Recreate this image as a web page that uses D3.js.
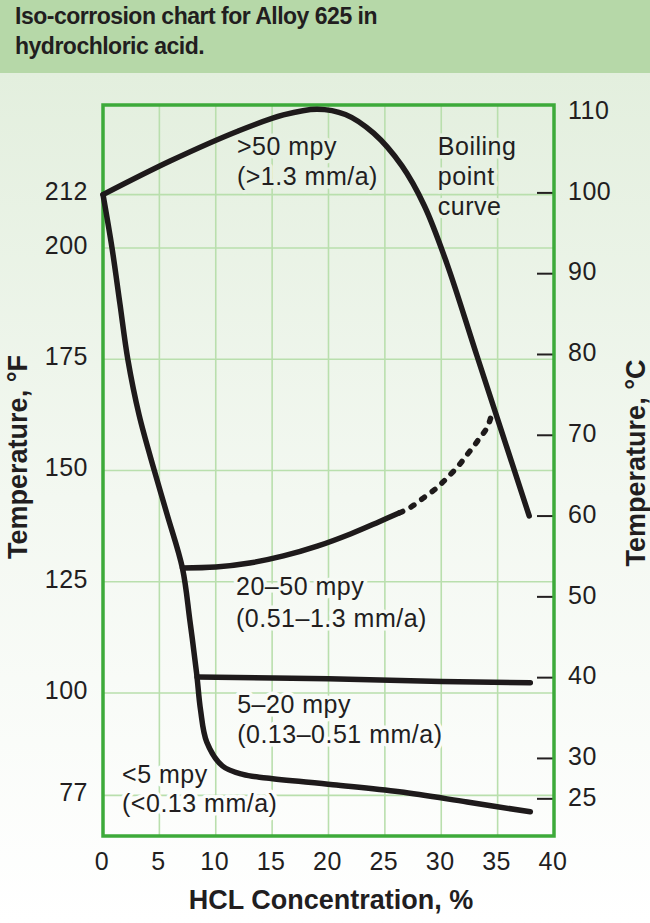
<!DOCTYPE html>
<html>
<head>
<meta charset="utf-8">
<script src="https://cdn.jsdelivr.net/npm/d3@7"></script>
<style>
  html, body { margin: 0; padding: 0; background: #fff; }
  svg { display: block; }
  text { font-family: "Liberation Sans", Arial, Helvetica, sans-serif; fill: #221e1f; }
</style>
</head>
<body>
<div id="chart"></div>
<script>
// ---------- data ----------
const titleLines = ["Iso-corrosion chart for Alloy 625 in", "hydrochloric acid."];
const xTicks = [0, 5, 10, 15, 20, 25, 30, 35, 40];
const xGrid = [5, 10, 15, 20, 25, 30, 35];
const fTicks = [77, 100, 125, 150, 175, 200, 212];
const cTicks = [25, 30, 40, 50, 60, 70, 80, 90, 100];
const cLabels = [25, 30, 40, 50, 60, 70, 80, 90, 100, 110];

// curves: [HCl %, temperature °F]
const boilingCurve = [[0,212],[6,219.6],[12,226.3],[16,229.9],[19,231.2],[21.5,230],[24,225.8],[26.5,218.5],[28.5,209.5],[30.5,196.5],[33.2,175.5],[37.8,139.8]];
const lowBoundary = [[0,212],[0.8,200],[1.5,187.5],[2.2,175],[3.2,162.5],[4.55,150],[5.7,140],[7.05,128],[7.7,116.4],[8.3,104.5],[8.65,96.2],[9.2,89],[10.6,83.6],[12.4,81.7],[14.5,80.9],[20.4,79.4],[26.3,77.8],[32.3,75.5],[37.9,73.3]];
const mid50Solid = [[7.05,128.1],[10,128.3],[13,129.2],[16,130.8],[19,133],[22,135.8],[24.5,138.5],[26.3,140.5]];
const mid50Dotted = [[26.3,140.5],[27.2,141.6],[28.4,143.8],[29.6,146.1],[30.5,148.3],[31.5,151.0],[32.4,153.9],[33.3,156.9],[34.1,159.8],[34.5,162.9]];
const mid20 = [[8.35,103.6],[20,103.2],[30,102.6],[37.9,102.3]];

const annotations = [
  {text: ">50 mpy", x: 11.88, f: 220.9},
  {text: "(>1.3 mm/a)", x: 11.88, f: 214.2},
  {text: "Boiling", x: 29.7, f: 220.9},
  {text: "point", x: 29.7, f: 214.2},
  {text: "curve", x: 29.7, f: 207.4},
  {text: "20–50 mpy", x: 11.8, f: 122.0},
  {text: "(0.51–1.3 mm/a)", x: 11.8, f: 114.8},
  {text: "5–20 mpy", x: 11.9, f: 95.5},
  {text: "(0.13–0.51 mm/a)", x: 11.9, f: 88.8},
  {text: "<5 mpy", x: 1.69, f: 79.8},
  {text: "(<0.13 mm/a)", x: 1.69, f: 73.3}
];

// ---------- layout ----------
const W = 650, H = 923;
const plot = {left: 103, right: 554, top: 105, bottom: 836};
const headerH = 73;

const x = d3.scaleLinear().domain([0, 40]).range([plot.left, plot.right]);
const yF = d3.scaleLinear().domain([67.87, 232.13]).range([plot.bottom, plot.top]);
const yC = d3.scaleLinear().domain([20.40, 110.88]).range([plot.bottom, plot.top]);

const svg = d3.select("#chart").append("svg").attr("width", W).attr("height", H);

const bgTop = "#e3efde", bgMid = "#f3f8f1", bgBot = "#ffffff";
const defs = svg.append("defs");
const grad = defs.append("linearGradient").attr("id", "bg").attr("x1", 0).attr("y1", 0).attr("x2", 0).attr("y2", 1);
grad.append("stop").attr("offset", "0%").attr("stop-color", bgTop);
grad.append("stop").attr("offset", "50%").attr("stop-color", bgMid);
grad.append("stop").attr("offset", "100%").attr("stop-color", bgBot);
const bgAt = y => {
  const t = (y - headerH) / (H - headerH);
  return t < 0.5 ? d3.interpolateRgb(bgTop, bgMid)(t / 0.5) : d3.interpolateRgb(bgMid, bgBot)((t - 0.5) / 0.5);
};

svg.append("rect").attr("x", 0).attr("y", headerH).attr("width", W).attr("height", H - headerH).attr("fill", "url(#bg)");
svg.append("rect").attr("x", 0).attr("y", 0).attr("width", W).attr("height", headerH).attr("fill", "#b6d8a8");

svg.append("g").selectAll("text").data(titleLines).join("text")
  .attr("x", 15).attr("y", (d, i) => 24 + i * 30)
  .attr("font-size", 23).attr("letter-spacing", -0.5).attr("font-weight", "bold").attr("fill", "#1b1b1b")
  .text(d => d);

// grid
const grid = svg.append("g").attr("stroke", "#b9dfad").attr("stroke-width", 1.6);
grid.selectAll("line.v").data(xGrid).join("line").attr("class", "v")
  .attr("x1", d => x(d)).attr("x2", d => x(d)).attr("y1", plot.top).attr("y2", plot.bottom);
grid.selectAll("line.h").data(fTicks).join("line").attr("class", "h")
  .attr("x1", plot.left).attr("x2", plot.right).attr("y1", d => yF(d)).attr("y2", d => yF(d));

// right axis tick marks
svg.append("g").selectAll("line").data(cTicks).join("line")
  .attr("x1", plot.right - 17).attr("x2", plot.right).attr("y1", d => yC(d)).attr("y2", d => yC(d))
  .attr("stroke", "#231f20").attr("stroke-width", 2);

// annotations with halo
svg.append("g").selectAll("text").data(annotations).join("text")
  .attr("x", d => x(d.x)).attr("y", d => yF(d.f))
  .attr("font-size", 25).attr("letter-spacing", 0.5)
  .attr("stroke", d => bgAt(yF(d.f))).attr("stroke-width", 7).attr("paint-order", "stroke")
  .attr("stroke-linejoin", "round")
  .text(d => d.text);

// border
svg.append("rect").attr("x", plot.left).attr("y", plot.top)
  .attr("width", plot.right - plot.left).attr("height", plot.bottom - plot.top)
  .attr("fill", "none").attr("stroke", "#3daa3a").attr("stroke-width", 3.5);

// curves
const line = d3.line().x(d => x(d[0])).y(d => yF(d[1])).curve(d3.curveCatmullRom.alpha(0.5));
const curves = svg.append("g").attr("fill", "none").attr("stroke", "#1e1a1b")
  .attr("stroke-width", 5.5).attr("stroke-linecap", "round").attr("stroke-linejoin", "round");
[boilingCurve, lowBoundary, mid50Solid, mid20].forEach(c => curves.append("path").attr("d", line(c)));
curves.append("path").attr("d", line(mid50Dotted)).attr("stroke-dasharray", "3.5,9.5");

// left axis labels
svg.append("g").selectAll("text").data(fTicks).join("text")
  .attr("x", 88).attr("y", d => yF(d) - 3).attr("dy", "0.35em")
  .attr("text-anchor", "end").attr("font-size", 25).attr("letter-spacing", 0.5)
  .text(d => d);

// right axis labels
svg.append("g").selectAll("text").data(cLabels).join("text")
  .attr("x", 568).attr("y", d => yC(d) - 2).attr("dy", "0.35em")
  .attr("font-size", 25).attr("letter-spacing", 0.5)
  .text(d => d);

// bottom axis labels
svg.append("g").selectAll("text").data(xTicks).join("text")
  .attr("x", d => x(d) - 1).attr("y", 870)
  .attr("text-anchor", "middle").attr("font-size", 25).attr("letter-spacing", 0.5)
  .text(d => d);

// axis titles
svg.append("text").attr("x", 331).attr("y", 909).attr("text-anchor", "middle")
  .attr("font-size", 27).attr("font-weight", "bold").text("HCL Concentration, %");
svg.append("text").attr("transform", "translate(27,457) rotate(-90)").attr("text-anchor", "middle")
  .attr("font-size", 27).attr("font-weight", "bold").text("Temperature, °F");
svg.append("text").attr("transform", "translate(645,463) rotate(-90)").attr("text-anchor", "middle")
  .attr("font-size", 27).attr("font-weight", "bold").text("Temperature, °C");
</script>
</body>
</html>
